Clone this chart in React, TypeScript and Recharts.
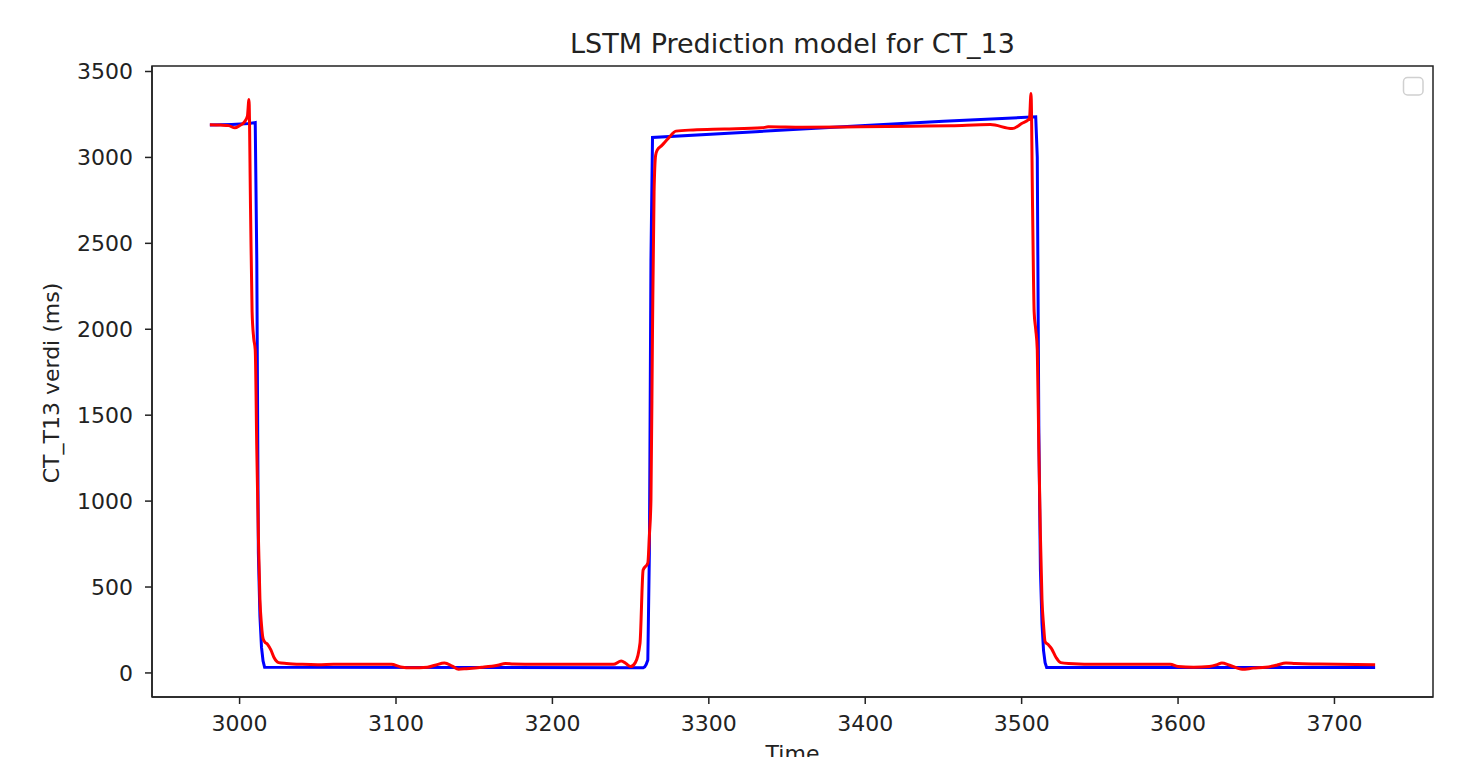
import React from 'react';
import { LineChart, Line, XAxis, YAxis } from 'recharts';

// actual values (blue)
const actualTime = [2981, 2995, 3006, 3010, 3011, 3012, 3013, 3014, 3015, 3016, 3258, 3259, 3260, 3261, 3262, 3263, 3264, 3330, 3397, 3450, 3509, 3510, 3511, 3512, 3513, 3514, 3515, 3516, 3726];
const actualVals = [3188, 3192, 3197, 3203, 2400, 700, 330, 150, 70, 33, 30, 35, 50, 76, 700, 2400, 3116, 3150, 3185, 3210, 3236, 3000, 1400, 600, 290, 130, 60, 31, 31];

// LSTM predicted values (red)
const predTime = [
  2981, 2988, 2993, 2997, 3000, 3003, 3005, 3006, 3007, 3008, 3009, 3010, 3011, 3012, 3013, 3014, 3015, 3016, 3018, 3020, 3022, 3025, 3030, 3040, 3050, 3060, 3080, 3097,
  3103, 3110, 3120, 3125, 3131, 3136, 3140, 3145, 3155, 3165, 3170, 3175, 3190, 3220, 3239, 3244, 3247, 3250, 3253, 3256, 3258, 3261, 3262, 3263, 3264, 3265, 3266, 3267,
  3270, 3274, 3279, 3290, 3310, 3334, 3338, 3360, 3397, 3430, 3455, 3480, 3494, 3500, 3505, 3506, 3507, 3508, 3509, 3510, 3511, 3512, 3513, 3514, 3515, 3517, 3519,
  3522, 3525, 3530, 3550, 3570, 3595, 3600, 3610, 3620, 3625, 3628, 3633, 3641, 3648, 3656, 3663, 3669, 3675, 3690, 3726,
];
const predVals = [
  3190, 3188, 3185, 3172, 3185, 3205, 3240, 3337, 2700, 2100, 1950, 1880, 1300, 800, 430, 280, 200, 182, 165, 134, 90, 60, 55, 50, 48, 50, 51, 50,
  35, 30, 33, 45, 58, 40, 22, 25, 33, 45, 55, 52, 50, 50, 50, 70, 55, 37, 60, 173, 599, 640, 800, 1006, 2000, 2800, 3013, 3042,
  3070, 3110, 3153, 3160, 3165, 3172, 3178, 3175, 3178, 3182, 3185, 3191, 3168, 3197, 3226, 3372, 2700, 2100, 2000, 1880, 1300, 800, 430, 280, 182, 165, 143,
  90, 60, 55, 50, 51, 50, 37, 33, 37, 48, 58, 45, 21, 28, 33, 45, 58, 55, 52, 48,
];

const xTicks = [3000, 3100, 3200, 3300, 3400, 3500, 3600, 3700];
const yTicks = [0, 500, 1000, 1500, 2000, 2500, 3000, 3500];

const actual = actualTime.map((t, i) => ({ t, v: actualVals[i] }));
const predicted = predTime.map((t, i) => ({ t, v: predVals[i] }));

const W = 1460;
const H = 757;
const font = "'DejaVu Sans', sans-serif";
const ink = '#222';
const tickStyle = { fill: ink, fontSize: 22, fontFamily: font };

export default function App() {
  return (
    <div style={{ position: 'absolute', left: 0, top: 0, width: W, height: H, background: '#fff', overflow: 'hidden' }}>
      <LineChart width={W} height={H} margin={{ top: 66, right: 27, left: 0, bottom: 0 }}>
        <XAxis
          dataKey="t"
          type="number"
          domain={[2944, 3763]}
          ticks={xTicks}
          allowDataOverflow
          height={60}
          tick={tickStyle}
          tickSize={7}
          tickMargin={11}
          axisLine={{ stroke: ink, strokeWidth: 1.5 }}
          tickLine={{ stroke: ink, strokeWidth: 1.5 }}
        />
        <YAxis
          type="number"
          domain={[-140, 3532]}
          ticks={yTicks}
          allowDataOverflow
          width={152}
          tick={tickStyle}
          tickSize={7}
          tickMargin={12}
          axisLine={{ stroke: ink, strokeWidth: 1.5 }}
          tickLine={{ stroke: ink, strokeWidth: 1.5 }}
        />
        <Line data={actual} dataKey="v" type="linear" stroke="#0000ff" strokeWidth={3} dot={false} isAnimationActive={false} />
        <Line data={predicted} dataKey="v" type="monotone" stroke="#ff0000" strokeWidth={3} dot={false} isAnimationActive={false} />
      </LineChart>
      <svg width={W} height={H} style={{ position: 'absolute', left: 0, top: 0, pointerEvents: 'none' }}>
        {/* axes frame, like matplotlib's four spines */}
        <rect x={152} y={66} width={1281} height={631} fill="none" stroke={ink} strokeWidth={1.5} />
        <text x={792.5} y={52.5} textAnchor="middle" fontSize={27} fontFamily={font} fill={ink}>
          LSTM Prediction model for CT_13
        </text>
        <text transform="translate(59,383) rotate(-90)" textAnchor="middle" fontSize={22} fontFamily={font} fill={ink}>
          CT_T13 verdi (ms)
        </text>
        <text x={792.5} y={761} textAnchor="middle" fontSize={22} fontFamily={font} fill={ink}>
          Time
        </text>
        <rect x={1403.5} y={77.5} width={19.5} height={17.5} rx={4} fill="#fff" stroke="#d0d0d0" strokeWidth={1.5} />
      </svg>
    </div>
  );
}
